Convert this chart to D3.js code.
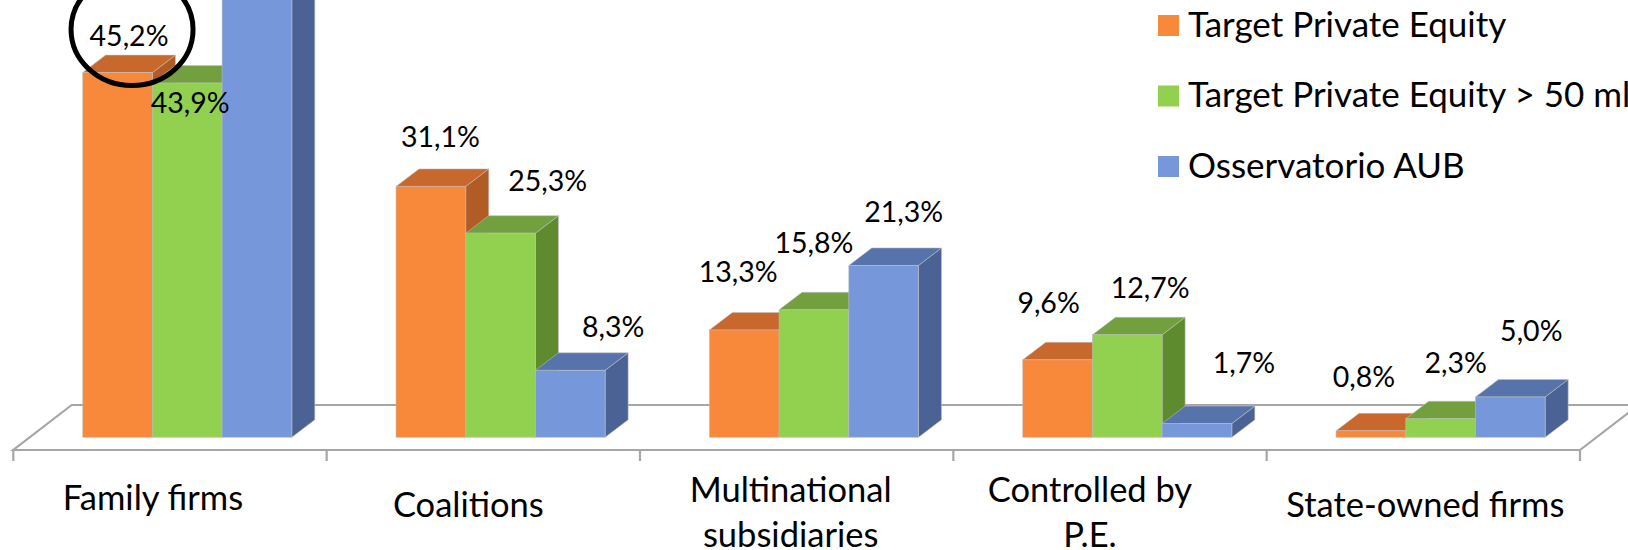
<!DOCTYPE html>
<html>
<head>
<meta charset="utf-8">
<script src="https://cdn.jsdelivr.net/npm/d3@7/dist/d3.min.js"></script>
<style>
  html, body { margin: 0; padding: 0; background: #ffffff; }
  svg { display: block; }
  text { font-family: Lato, "Open Sans", "Noto Sans", sans-serif; fill: #000; }
</style>
</head>
<body>
<svg id="chart" width="1628" height="550"></svg>
<script>
// ---- data ----
const categories = ["Family firms", "Coalitions", "Multinational subsidiaries", "Controlled by P.E.", "State-owned firms"];
const categoryLines = [["Family firms"], ["Coalitions"], ["Multinational", "subsidiaries"], ["Controlled by", "P.E."], ["State-owned firms"]];
const seriesNames = ["Target Private Equity", "Target Private Equity > 50 mln", "Osservatorio AUB"];
const targetPE = [45.2, 31.1, 13.3, 9.6, 0.8];
const targetPE50 = [43.9, 25.3, 15.8, 12.7, 2.3];
const osservatorioAUB = [63.7, 8.3, 21.3, 1.7, 5.0];

// ---- layout / style ----
const W = 1628, H = 550;
const baseY = 437.3;                    // front bottom edge of the bars
const depth = { dx: 23, dy: -17.5 };    // bar depth projection
const floorDepth = { dx: 58.4, dy: -45 };
const floorFrontY = 450;
const barOffset = 69.4;                 // front face start inside each category slot
const barWidth = 69.7;

const palette = [
  { front: "#F8883A", top: "#C8682C", side: "#B35B25" },
  { front: "#92D050", top: "#72A03E", side: "#5F8B2F" },
  { front: "#7698DA", top: "#5673AC", side: "#4A6394" }
];

// data-label nudges: [dx from bar centre, gap above the back top edge]
const labelNudge = [
  [[11.5, 9.5], [9.5, 21.8], [-6, 30.8], [-9, 29], [-7, 26.6]],
  [[3, -47.5], [47, 24.6], [0, 39.6], [23, 19], [15, 28]],
  [[0, 20], [43, 16], [20, 26.2], [47, 32.8], [21, 38]]
];
// category-label nudges: [dx from slot centre, first baseline]
const catNudge = [[-17, 510], [-15, 517], [-6, 502], [-20, 501.5], [2, 517]];
const catLineGap = 45;

const series = [targetPE, targetPE50, osservatorioAUB];

const svg = d3.select("#chart");
svg.append("rect").attr("width", W).attr("height", H).attr("fill", "#fff");

const x0 = d3.scaleBand().domain(categories).range([13.3, 1580]).padding(0);
const x1 = d3.scaleBand().domain(seriesNames).range([barOffset, barOffset + 3 * barWidth]).padding(0);
const y = d3.scaleLinear().domain([0, 54.2]).range([baseY, 0]);

const locale = d3.formatLocale({ decimal: ",", thousands: ".", grouping: [3], currency: ["€", ""] });
const fmt = v => locale.format(".1f")(v) + "%";

// ---- floor ----
const floor = svg.append("g").attr("fill", "none").attr("stroke", "#A6A6A6").attr("stroke-width", 2.2);
const fx0 = x0.range()[0], fx1 = x0.range()[1];
floor.append("path").attr("d", d3.line()([
  [fx1 + floorDepth.dx, floorFrontY + floorDepth.dy],
  [fx0 + floorDepth.dx, floorFrontY + floorDepth.dy],
  [fx0, floorFrontY],
  [fx1, floorFrontY],
  [fx1 + floorDepth.dx, floorFrontY + floorDepth.dy]
]));
const tickXs = categories.map(c => x0(c)).concat([fx1]);
floor.selectAll("line.tick").data(tickXs).join("line")
  .attr("class", "tick")
  .attr("x1", d => d).attr("x2", d => d)
  .attr("y1", floorFrontY).attr("y2", floorFrontY + 11);

// ---- bars ----
const bars = [];
categories.forEach((c, ci) => {
  seriesNames.forEach((s, si) => {
    bars.push({ c, ci, s, si, v: series[si][ci] });
  });
});

const barG = svg.append("g");
const cuboid = barG.selectAll("g.bar").data(bars).join("g").attr("class", "bar");
const edge = "rgba(190,190,190,0.7)";

cuboid.each(function (d) {
  const g = d3.select(this);
  const xl = x0(d.c) + x1(d.s), xr = xl + x1.bandwidth();
  const yt = y(d.v);
  const col = palette[d.si];
  // side face
  g.append("path").attr("d", d3.line()([
    [xr, yt], [xr + depth.dx, yt + depth.dy], [xr + depth.dx, baseY + depth.dy], [xr, baseY]
  ]) + "Z").attr("fill", col.side).attr("stroke", edge).attr("stroke-width", 0.8);
  // top face
  g.append("path").attr("d", d3.line()([
    [xl, yt], [xl + depth.dx, yt + depth.dy], [xr + depth.dx, yt + depth.dy], [xr, yt]
  ]) + "Z").attr("fill", col.top).attr("stroke", edge).attr("stroke-width", 0.8);
  // front face
  g.append("rect").attr("x", xl).attr("y", yt).attr("width", xr - xl).attr("height", baseY - yt)
    .attr("fill", col.front).attr("stroke", edge).attr("stroke-width", 0.8);
});

// ---- data labels ----
const labelPos = d => {
  const xl = x0(d.c) + x1(d.s);
  const nd = labelNudge[d.si][d.ci];
  return { x: xl + x1.bandwidth() / 2 + nd[0], y: y(d.v) + depth.dy - nd[1] };
};
svg.append("g").selectAll("text").data(bars.filter(d => labelPos(d).y > 0)).join("text")
  .attr("x", d => labelPos(d).x)
  .attr("y", d => labelPos(d).y)
  .attr("text-anchor", "middle")
  .attr("font-size", 28.5)
  .text(d => fmt(d.v));

// highlight ring around the largest Target Private Equity share
const hl = labelPos(bars[0]);
svg.append("ellipse")
  .attr("cx", hl.x + 3).attr("cy", hl.y - 16)
  .attr("rx", 61).attr("ry", 56)
  .attr("fill", "none").attr("stroke", "#000").attr("stroke-width", 5);

// ---- category labels ----
const catG = svg.append("g").selectAll("text").data(categories).join("text")
  .attr("text-anchor", "middle")
  .attr("font-size", 34.5)
  .attr("x", (c, i) => x0(c) + x0.bandwidth() / 2 + catNudge[i][0])
  .attr("y", (c, i) => catNudge[i][1]);
catG.each(function (c, i) {
  const t = d3.select(this);
  categoryLines[i].forEach((line, li) => {
    t.append("tspan")
      .attr("x", x0(c) + x0.bandwidth() / 2 + catNudge[i][0])
      .attr("dy", li === 0 ? 0 : catLineGap)
      .text(line);
  });
});

// ---- legend ----
const legend = svg.append("g").selectAll("g").data(seriesNames).join("g")
  .attr("transform", (s, i) => `translate(1158, ${15 + i * 70.5})`);
legend.append("rect").attr("width", 21).attr("height", 21)
  .attr("fill", (s, i) => palette[i].front);
legend.append("text").attr("x", 30).attr("y", 21.5)
  .attr("font-size", 35)
  .text(s => s);
</script>
</body>
</html>
